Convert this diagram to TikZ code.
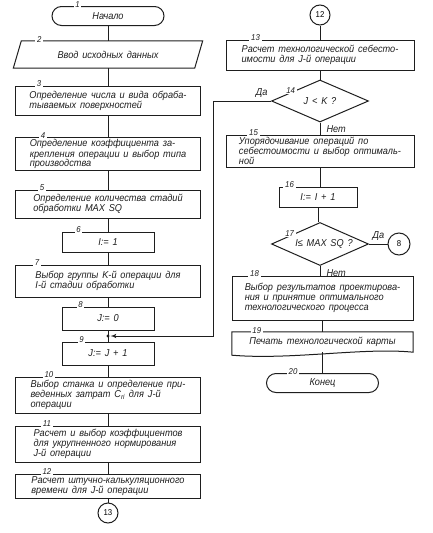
\documentclass[tikz,border=0pt]{standalone}
\usepackage{fontspec}
\setmainfont{Liberation Sans}[FakeStretch=0.92, WordSpace=1.5]
\usepackage{tikz}
\usetikzlibrary{calc}
\usetikzlibrary{arrows}
\usetikzlibrary{positioning}
\usetikzlibrary{shapes.geometric}
\definecolor{ink}{RGB}{30, 30, 30}
\tikzset{
    lbl/.style      = {font=\itshape\fontsize{10}{10}\selectfont, text=ink},
    flow/.style     = {draw=ink, line width=1pt},
    widebox/.style  = {lbl, flow, minimum width=185pt, inner xsep=6pt, inner ysep=1pt, align=left},
    narrowbox/.style= {lbl, flow, minimum width=92pt, minimum height=22pt, align=center},
    termbox/.style  = {lbl, flow, rounded corners=9.5pt, minimum width=112pt, minimum height=19pt},
    choice/.style   = {lbl, flow, diamond, aspect=2.3, minimum width=97pt, minimum height=42pt, inner sep=0pt},
    jump/.style     = {flow, circle, minimum size=20pt, inner sep=0pt, font=\fontsize{8.5}{10}\selectfont},
    numlbl/.style   = {fill=white, inner xsep=1.8pt, inner ysep=0.2pt, text=ink, yshift=1.6pt, font=\itshape\fontsize{8.5}{9}\selectfont}
}
\begin{document}
\begin{tikzpicture}[x=1pt, y=-1pt]
            \useasboundingbox (0,0) rectangle (433,533);
            \node[termbox]                     (b1)  at (108, 16)    {Начало};
            \node[lbl, minimum width=181pt, minimum height=27pt] (b2) at (108, 54.5) {Ввод исходных данных};
            \draw[flow] ([xshift=4pt]b2.north west) -- ([xshift=4pt]b2.north east)
                 -- ([xshift=-4pt]b2.south east) -- ([xshift=-4pt]b2.south west) -- cycle;
            \node[widebox, minimum height=29pt] (b3)  at (108, 100.5) {Определение числа и вида обраба-\\тываемых поверхностей};
            \node[widebox, minimum height=33pt, font=\itshape\fontsize{10}{9.4}\selectfont] (b4) at (108, 154) {Определение коэффициента за-\\крепления операции и выбор типа\\производства};
            \node[widebox, minimum height=28pt] (b5)  at (108, 204)   {Определение количества стадий\\обработки MAX SQ};
            \node[narrowbox, minimum height=20pt] (b6) at (108, 242)  {I:= 1};
            \node[widebox, minimum height=32pt] (b7)  at (108, 281)   {Выбор группы K-й операции для\\I-й стадии обработки};
            \node[narrowbox, minimum height=23pt] (b8) at (108, 318.5) {J:= 0};
            \node[narrowbox, minimum height=23pt] (b9) at (108, 353.5) {J:= J + 1};
            \node[widebox, minimum height=36pt] (b10) at (108, 395)   {Выбор станка и определение при-\\веденных затрат C\textsubscript{ri} для J-й\\операции};
            \node[widebox, minimum height=36pt] (b11) at (108, 444)   {Расчет и выбор коэффициентов\\для укрупненного нормирования\\J-й операции};
            \node[widebox, minimum height=24pt] (b12) at (108, 486)   {Расчет штучно-калькуляционного\\времени для J-й операции};
            \node[jump]                        (c13) at (108, 513)   {13};

            \node[jump]                        (c12) at (320, 15)    {12};
            \node[widebox, minimum width=188pt, minimum height=30pt] (b13) at (320, 55) {Расчет технологической себесто-\\имости для J-й операции};
            \node[choice]                      (d14) at (320, 101)   {J < K ?};
            \node[widebox, minimum width=188pt, minimum height=32pt] (b15) at (320, 151) {Упорядочивание операций по\\себестоимости и выбор оптималь-\\ной};
            \node[narrowbox, minimum width=78pt, minimum height=20pt] (b16) at (318, 197) {I:= I + 1};
            \node[choice, minimum height=43pt] (d17) at (320, 244)   {\hspace*{8pt}I≤ MAX SQ ?};
            \node[jump, minimum size=22pt]     (c8)  at (399, 244)   {8};
            \node[widebox, minimum width=181pt, minimum height=44pt] (b18) at (322.5, 298) {Выбор результатов проектирова-\\ния и принятие оптимального\\технологического процесса};
            \node[lbl, minimum width=181pt, minimum height=20pt] (b19) at (322.5, 342) {Печать технологической карты};
            \draw[flow] (b19.north west) -- (b19.north east) -- (b19.south east)
                 .. controls ($(b19.south east)+(-50,-5)$) and ($(b19.south west)+(60,8)$) .. ([yshift=-3pt]b19.south west) -- cycle;
            \node[termbox]                     (t20) at (322.5, 383) {Конец};

            \node[numlbl] at ([xshift=26pt]b1.north west)  {1};
            \node[numlbl] at ([xshift=22pt]b2.north west)  {2};
            \node[numlbl] at ([xshift=24pt]b3.north west)  {3};
            \node[numlbl] at ([xshift=28pt]b4.north west)  {4};
            \node[numlbl] at ([xshift=27pt]b5.north west)  {5};
            \node[numlbl] at ([xshift=17pt]b6.north west)  {6};
            \node[numlbl] at ([xshift=22pt]b7.north west)  {7};
            \node[numlbl] at ([xshift=19pt]b8.north west)  {8};
            \node[numlbl] at ([xshift=20pt]b9.north west)  {9};
            \node[numlbl] at ([xshift=34pt]b10.north west) {10};
            \node[numlbl] at ([xshift=32pt]b11.north west) {11};
            \node[numlbl] at ([xshift=32pt]b12.north west) {12};
            \node[numlbl] at ([xshift=30pt]b13.north west) {13};
            \node[numlbl] at ($(d14.west)!0.4!(d14.north)$) {14};
            \node[numlbl] at ([xshift=28pt]b15.north west) {15};
            \node[numlbl] at ([xshift=11pt]b16.north west) {16};
            \node[numlbl] at ($(d17.west)!0.38!(d17.north)$) {17};
            \node[numlbl] at ([xshift=23pt]b18.north west) {18};
            \node[numlbl] at ([xshift=25pt]b19.north west) {19};
            \node[numlbl] at ([xshift=27pt]t20.north west) {20};

            \foreach \a/\b in {b1/b2, b2/b3, b3/b4, b4/b5, b5/b6, b6/b7, b7/b8, b8/b9, b9/b10, b10/b11, b11/b12, b12/c13,
                               c12/b13, b13/d14, d14/b15, b15/b16, b16/d17, d17/b18, b18/b19, b19/t20}
                \draw[flow] (\a.south) -- (\a.south |- \b.north);
            \draw[flow] (d17) -- (c8);

            \coordinate (lp) at (213, 0);
            \coordinate (j9) at ($(b8.south)!0.5!(b9.north)$);
            \draw[flow, -latex', shorten >=2.5pt] (d14.west) -- (d14.west -| lp) -- (lp |- j9) -- (j9);
            \fill[ink] (j9) circle (1.6pt);

            \node[lbl, anchor=south east] at (d14.west) {Да};
            \node[lbl, anchor=north west] at ([xshift=3pt]d14.south) {Нет};
            \node[lbl, anchor=south west] at (d17.east) {Да};
            \node[lbl, anchor=north west] at ([xshift=3pt]d17.south) {Нет};
        \end{tikzpicture}
\end{document}
